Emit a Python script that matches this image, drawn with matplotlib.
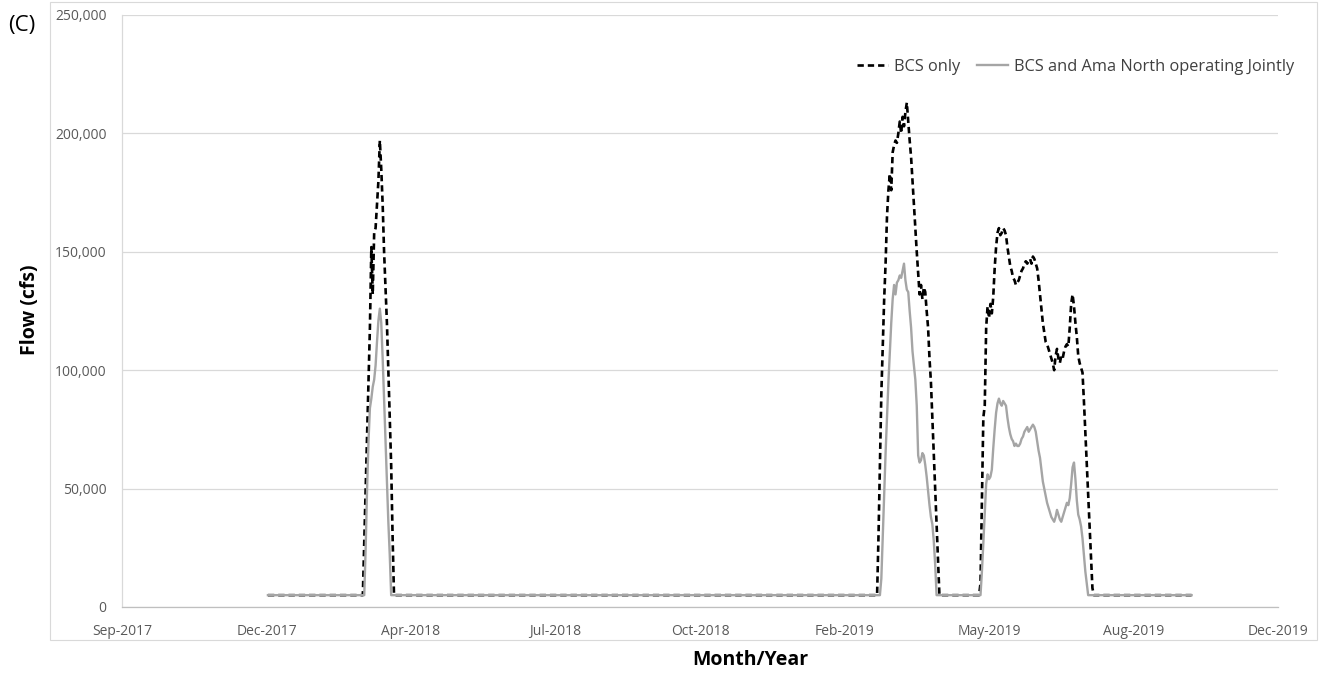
import matplotlib
matplotlib.use("Agg")
import matplotlib.pyplot as plt
import matplotlib.dates as mdates
from matplotlib.patches import Rectangle
import pandas as pd

plt.rcParams["font.family"] = ["Open Sans", "DejaVu Sans"]

# ---- data -------------------------------------------------------------
series_start = "2017-12-24"
series_end = "2019-10-07"
base_flow = 5000

# BCS only: daily flows (cfs) during each operating event
bcs_event_starts = ["2018-03-01", "2019-02-27", "2019-05-10"]
bcs_events = [
    [5000, 27000, 50000, 73000, 96000, 118000, 152000, 132000, 158000, 160000,
     170000, 180000, 197000, 185000, 170000, 150000, 135000, 120000, 100000,
     80000, 60000, 30000, 5000],
    [5000, 30000, 60000, 90000, 110000, 130000, 145000, 165000, 176000, 183000,
     176000, 192000, 195000, 197000, 196000, 200000, 205000, 200000, 207000,
     203000, 209000, 213000, 205000, 197000, 190000, 180000, 170000, 160000,
     150000, 141000, 132000, 136000, 130000, 135000, 133000, 125000, 118000,
     105000, 95000, 80000, 65000, 50000, 35000, 20000, 5000],
    [5000, 10000, 45000, 80000, 85000, 118000, 127000, 122000, 128000, 124000,
     131000, 143000, 152000, 158000, 160000, 157000, 158000, 160000, 159000,
     157000, 152000, 148000, 144000, 142000, 139000, 138000, 136000, 137000,
     138000, 140000, 142000, 143000, 145000, 146000, 145000, 146000, 147000,
     145000, 148000, 147000, 145000, 143000, 138000, 132000, 126000, 120000,
     116000, 112000, 111000, 109000, 107000, 105000, 103000, 100000, 106000,
     109000, 105000, 103000, 106000, 105000, 108000, 110000, 111000, 110000,
     118000, 128000, 132000, 127000, 120000, 114000, 106000, 103000, 101000,
     99000, 87000, 74000, 61000, 48000, 35000, 22000, 8000, 5000],
]

# BCS and Ama North operating jointly
joint_event_starts = ["2018-03-02", "2019-03-01", "2019-05-11"]
joint_events = [
    [5000, 25000, 50000, 70000, 84000, 88000, 93000, 96000, 102000, 112000,
     121000, 126000, 120000, 105000, 88000, 72000, 55000, 36000, 22000, 5000],
    [5000, 12000, 30000, 48000, 65000, 80000, 95000, 108000, 120000, 130000,
     136000, 132000, 137000, 138000, 140000, 139000, 142000, 145000, 138000,
     134000, 133000, 125000, 118000, 108000, 102000, 96000, 85000, 64000,
     61000, 62000, 65000, 64000, 60000, 55000, 49000, 43000, 38000, 35000,
     28000, 18000, 5000],
    [5000, 15000, 27000, 40000, 52000, 56000, 54000, 55000, 58000, 67000,
     75000, 82000, 86000, 88000, 86000, 85000, 87000, 86000, 85000, 80000,
     76000, 73000, 71000, 70000, 68000, 69000, 68000, 68000, 69000, 71000,
     72000, 74000, 75000, 76000, 74000, 75000, 76000, 77000, 76000, 74000,
     70000, 66000, 63000, 58000, 53000, 50000, 47000, 44000, 42000, 40000,
     38000, 37000, 36000, 38000, 41000, 39000, 37000, 36000, 38000, 40000,
     42000, 44000, 43000, 46000, 52000, 59000, 61000, 54000, 45000, 39000,
     37000, 34000, 29000, 22000, 15000, 10000, 5000],
]

y_ticks = [0, 50000, 100000, 150000, 200000, 250000]
axis_start = "2017-09-12"
axis_end = "2019-12-07"
tick_step_days = 102


def build_series(starts, events):
    dates = [pd.Timestamp(series_start)]
    flows = [base_flow]
    for start, vals in zip(starts, events):
        dates.extend(pd.date_range(start, periods=len(vals), freq="D"))
        flows.extend(vals)
    dates.append(pd.Timestamp(series_end))
    flows.append(base_flow)
    return mdates.date2num(dates), flows


bcs_x, bcs_y = build_series(bcs_event_starts, bcs_events)
joint_x, joint_y = build_series(joint_event_starts, joint_events)

# ---- figure -----------------------------------------------------------
W, H = 1322, 674
fig = plt.figure(figsize=(W / 100, H / 100), dpi=100)
fig.patch.set_facecolor("white")
fig.add_artist(Rectangle((50 / W, 1 - 640 / H), (1317 - 50) / W, (640 - 2) / H,
                         transform=fig.transFigure, fill=False,
                         edgecolor="#d9d9d9", linewidth=0.8))

ax = fig.add_axes([122 / W, 1 - 607 / H, (1278 - 122) / W, (607 - 15) / H])

bcs_line, = ax.plot(bcs_x, bcs_y, color="black", linewidth=1.9,
                    linestyle=(0, (2.4, 1.5)), label="BCS only", zorder=3)
joint_line, = ax.plot(joint_x, joint_y, color="#a5a5a5", linewidth=1.7,
                      solid_joinstyle="round",
                      label="BCS and Ama North operating Jointly", zorder=4)

x0 = mdates.date2num(pd.Timestamp(axis_start))
x1 = mdates.date2num(pd.Timestamp(axis_end))
ax.set_xlim(x0, x1)
ax.set_ylim(0, 250000)

tick_dates = pd.date_range(axis_start, axis_end, freq=f"{tick_step_days}D")
ax.set_xticks(mdates.date2num(tick_dates))
ax.set_xticklabels([d.strftime("%b-%Y") for d in tick_dates])
ax.set_yticks(y_ticks)
ax.set_yticklabels([f"{v:,}" for v in y_ticks])

ax.tick_params(axis="both", length=0, labelsize=10, labelcolor="#595959")
ax.tick_params(axis="x", pad=12)
ax.tick_params(axis="y", pad=11)

ax.grid(axis="y", color="#d9d9d9", linewidth=0.9)
ax.set_axisbelow(True)
for side in ("top", "right"):
    ax.spines[side].set_visible(False)
ax.spines["left"].set_color("#d9d9d9")
ax.spines["left"].set_linewidth(0.9)
ax.spines["bottom"].set_color("#bfbfbf")
ax.spines["bottom"].set_linewidth(0.9)

leg = fig.legend([bcs_line, joint_line], [bcs_line.get_label(), joint_line.get_label()],
                 loc="center right", bbox_to_anchor=(1302 / W, 1 - 67 / H),
                 ncol=2, frameon=False, fontsize=11.8, handlelength=1.9,
                 handletextpad=0.35, columnspacing=1.0, borderpad=0,
                 labelcolor="#404040")

fig.text(750 / W, 1 - 660 / H, "Month/Year", ha="center", va="center",
         fontsize=14, fontweight="bold")
fig.text(30 / W, 1 - 310 / H, "Flow (cfs)", ha="center", va="center",
         rotation=90, fontsize=14, fontweight="bold")
fig.text(8 / W, 1 - 25 / H, "(C)", ha="left", va="center", fontsize=16)

fig.savefig("out.png", dpi=100, facecolor="white")
